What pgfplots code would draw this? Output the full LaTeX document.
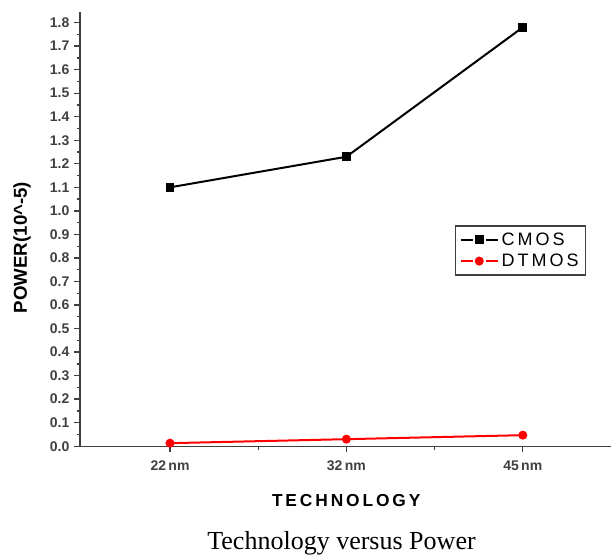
\documentclass[border=0pt]{standalone}
\usepackage{fontspec}
\setmainfont{Liberation Sans}
\newfontfamily\timesfont{Liberation Serif}
\usepackage{pgfplots}
\pgfplotsset{compat=1.18}
\definecolor{axgray}{HTML}{404040}
\begin{document}
\begin{tikzpicture}
\useasboundingbox (-60pt,-84.75pt) rectangle (398pt,334.5pt);
\begin{axis}[
  at={(0,0)}, anchor=south west,
  scale only axis,
  width=398pt, height=325.5pt,
  xmin=-0.51, xmax=2.5,
  ymin=0, ymax=1.845,
  axis lines*=left,
  axis line style={axgray, line width=1.1pt},
  tick align=outside,
  major tick length=4.5pt,
  minor tick length=2.6pt,
  every tick/.style={axgray, line width=1pt},
  xtick={0,1,2},
  xticklabels={22\,nm,32\,nm,45\,nm},
  minor xtick={0.5,1.5},
  ytick={0,0.1,...,1.85},
  minor ytick={0.05,0.15,...,1.85},
  /pgf/number format/assume math mode=true,
  yticklabel style={/pgf/number format/.cd, fixed, fixed zerofill, precision=1},
  ticklabel style={font=\fontsize{10.5}{12}\selectfont\bfseries, text=axgray},
  xticklabel style={yshift=-3pt},
  legend style={at={(0.706,0.509)}, anchor=north west, draw=axgray, line width=1pt,
    font=\fontsize{13.5}{16}\selectfont, inner xsep=3pt, inner ysep=3pt, row sep=1pt,
    legend cell align=left},
  legend image code/.code={
    \draw[#1, mark=none] (0pt,0pt) -- (9pt,0pt);
    \draw[#1, mark=none] (19pt,0pt) -- (28pt,0pt);
    \draw[#1, only marks] plot coordinates {(14pt,0pt)};
  },
]
\addplot[black, line width=1.5pt, mark=square*, mark size=2.6pt] coordinates {(0,1.10) (1,1.23) (2,1.78)};
\addlegendentry{C\,M\,O\,S}
\addplot[red, line width=1.5pt, mark=*, mark size=2.6pt] coordinates {(0,0.013) (1,0.03) (2,0.047)};
\addlegendentry{D\,T\,M\,O\,S}
\end{axis}
\node[rotate=90, font=\fontsize{14}{16}\selectfont\bfseries, text=black] at (-43.5pt,149pt) {POWER(10\^{}-5)};
\node[font=\fontsize{13}{15}\selectfont\bfseries] at (199.5pt,-40.5pt) {T\,E\,C\,H\,N\,O\,L\,O\,G\,Y};
\node[font=\fontsize{19.5}{22}\selectfont\timesfont] at (196pt,-72.75pt) {Technology versus Power};
\end{tikzpicture}
\end{document}
